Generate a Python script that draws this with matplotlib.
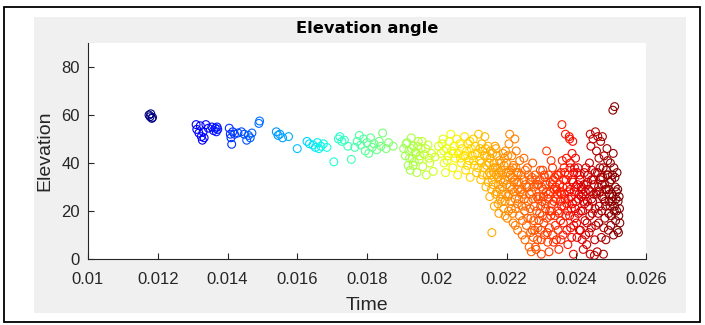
import numpy as np
import matplotlib
matplotlib.use('Agg')
import matplotlib.pyplot as plt
from matplotlib.patches import Rectangle

plt.rcParams['font.family'] = ['Liberation Sans', 'DejaVu Sans']

# %% Data, grouped by colour band
t_a = [0.01175, 0.01178, 0.01180, 0.01183, 0.01185]
e_a = [60.0, 59.3, 60.5, 58.6, 59.0]

t_b = [0.01310, 0.01312, 0.01318, 0.01322, 0.01325, 0.01328, 0.01330, 0.01333, 0.01338, 0.01345,
       0.01355, 0.01360, 0.01365, 0.01368, 0.01370, 0.01372]
e_b = [56.0, 54.0, 52.5, 55.5, 51.0, 49.5, 53.0, 50.5, 56.0, 54.5,
       55.0, 53.5, 54.5, 53.0, 55.0, 54.0]

t_c = [0.01405, 0.01408, 0.01410, 0.01412, 0.01415, 0.01420, 0.01430, 0.01440, 0.01448, 0.01455,
       0.01460, 0.01465, 0.01470, 0.01490, 0.01492]
e_c = [54.5, 52.0, 50.5, 47.8, 53.0, 52.0, 52.5, 53.0, 52.0, 49.5,
       51.5, 50.5, 52.5, 56.5, 57.5]

t_d = [0.01540, 0.01545, 0.01550, 0.01558, 0.01575, 0.01600, 0.01628, 0.01635, 0.01645, 0.01652,
       0.01658, 0.01662, 0.01668, 0.01675, 0.01685]
e_d = [53.0, 51.5, 52.0, 50.5, 51.0, 46.0, 49.0, 48.0, 47.5, 46.5,
       48.5, 46.0, 47.0, 48.0, 46.5]

t_e = [0.01705, 0.01718, 0.01722, 0.01728, 0.01735, 0.01745, 0.01755, 0.01765, 0.01772, 0.01778,
       0.01782, 0.01790, 0.01795, 0.01800, 0.01805, 0.01810, 0.01815, 0.01820, 0.01828, 0.01835,
       0.01840, 0.01845, 0.01855, 0.01862, 0.01875]
e_e = [40.5, 50.0, 51.0, 49.0, 49.5, 47.0, 41.5, 46.5, 49.0, 51.5,
       47.5, 50.0, 45.0, 48.5, 44.0, 50.5, 46.5, 48.0, 45.5, 49.0,
       47.0, 52.5, 46.0, 48.5, 47.0]

t_f = [0.01905, 0.01910, 0.01915, 0.01918, 0.01920, 0.01924, 0.01927, 0.01930, 0.01933, 0.01936,
       0.01940, 0.01943, 0.01947, 0.01950, 0.01955, 0.01960, 0.01965, 0.01970, 0.01975, 0.01980,
       0.01912, 0.01922, 0.01928, 0.01932, 0.01938, 0.01945, 0.01952, 0.01958, 0.01968, 0.01978,
       0.01985, 0.01990, 0.01995]
e_f = [46.0, 43.0, 48.5, 39.0, 45.0, 37.0, 50.5, 42.0, 47.0, 40.5,
       44.5, 36.0, 49.0, 41.5, 46.0, 38.5, 43.5, 35.0, 47.5, 40.0,
       48.0, 42.0, 46.0, 39.0, 44.0, 47.0, 43.0, 49.0, 46.0, 42.0,
       44.0, 36.5, 42.5]

t_g = [0.02005, 0.02012, 0.02018, 0.02021, 0.02025, 0.02028, 0.02033, 0.02036, 0.02040, 0.02043,
       0.02046, 0.02050, 0.02053, 0.02057, 0.02060, 0.02062, 0.02066, 0.02070, 0.02073, 0.02077,
       0.02080, 0.02083, 0.02086, 0.02090, 0.02093, 0.02096, 0.02099, 0.02102, 0.02105, 0.02108,
       0.02111, 0.02114, 0.02117, 0.02120, 0.02123, 0.02126, 0.02129, 0.02132, 0.02135, 0.02138,
       0.02015, 0.02030, 0.02048, 0.02068, 0.02088, 0.02110, 0.02128, 0.02140, 0.02145, 0.02020,
       0.02141, 0.02144, 0.02147]
e_g = [47, 44, 50, 40, 36, 46, 43, 49, 52, 45,
       38, 47, 42, 50, 35, 44, 48, 40, 46, 43,
       51, 37, 45, 48, 41, 34, 46, 43, 50, 39,
       47, 36, 44, 52, 41, 33, 48, 45, 38, 51,
       48, 41, 44, 42, 39, 44, 40, 46, 35, 45,
       30, 43, 47]

t_h = [0.02150, 0.02152, 0.02155, 0.02158, 0.02160, 0.02162, 0.02165, 0.02168, 0.02170, 0.02172,
       0.02175, 0.02178, 0.02180, 0.02182, 0.02185, 0.02188, 0.02190, 0.02192, 0.02195, 0.02198,
       0.02200, 0.02202, 0.02205, 0.02207, 0.02209, 0.02210, 0.02212, 0.02215, 0.02217, 0.02219,
       0.02220, 0.02222, 0.02224, 0.02226, 0.02228, 0.02230, 0.02232, 0.02234, 0.02236, 0.02238,
       0.02153, 0.02163, 0.02173, 0.02183, 0.02193, 0.02203, 0.02213, 0.02223, 0.02233, 0.02157,
       0.02167, 0.02177, 0.02187, 0.02197, 0.02206, 0.02216, 0.02227, 0.02237, 0.02161, 0.02189]
e_h = [40, 26, 35, 11, 44, 31, 22, 38, 46, 28,
       34, 19, 41, 25, 37, 30, 44, 21, 33, 27,
       40, 17, 36, 48, 52, 30, 24, 43, 34, 15,
       39, 28, 50, 21, 45, 32, 12, 36, 25, 41,
       42, 36, 43, 33, 39, 26, 37, 33, 29, 29,
       47, 31, 24, 45, 20, 29, 38, 18, 38, 35]

# extra orange points filling the 0.0208-0.0224 mass
t_k = [0.02082, 0.02095, 0.02106, 0.02118, 0.02124, 0.02131, 0.02137, 0.02143, 0.02148, 0.02151,
       0.02154, 0.02159, 0.02164, 0.02169, 0.02171, 0.02174, 0.02179, 0.02181, 0.02184, 0.02186,
       0.02191, 0.02194, 0.02196, 0.02199, 0.02201, 0.02204, 0.02208, 0.02211, 0.02214, 0.02218,
       0.02221, 0.02225, 0.02229, 0.02231, 0.02235, 0.02239, 0.02176, 0.02196, 0.02218, 0.02225]
e_k = [43, 49, 41, 38, 46, 35, 43, 39, 32, 36,
       45, 33, 40, 27, 35, 38, 36, 29, 40, 27,
       32, 42, 24, 36, 31, 43, 27, 35, 21, 38,
       32, 25, 36, 23, 32, 28, 23, 18, 19, 14]

t_i = [0.02242, 0.02245, 0.02247, 0.02250, 0.02252, 0.02255, 0.02257, 0.02260, 0.02262, 0.02265,
       0.02267, 0.02270, 0.02272, 0.02275, 0.02277, 0.02280, 0.02282, 0.02285, 0.02287, 0.02290,
       0.02292, 0.02295, 0.02297, 0.02300, 0.02302, 0.02305, 0.02307, 0.02310, 0.02312, 0.02315,
       0.02317, 0.02320, 0.02322, 0.02325, 0.02327, 0.02330, 0.02332, 0.02335, 0.02337, 0.02340,
       0.02342, 0.02345, 0.02347, 0.02350, 0.02352, 0.02355, 0.02357, 0.02360, 0.02362, 0.02365,
       0.02367, 0.02370, 0.02359, 0.02374, 0.02376, 0.02378, 0.02380, 0.02382, 0.02384, 0.02386,
       0.02388, 0.02390, 0.02392, 0.02394, 0.02396, 0.02398, 0.02400, 0.02402, 0.02404, 0.02406,
       0.02244, 0.02254, 0.02264, 0.02274, 0.02284, 0.02294, 0.02304, 0.02314, 0.02324, 0.02334,
       0.02344, 0.02354, 0.02364, 0.02366, 0.02373, 0.02383, 0.02393, 0.02403, 0.02408, 0.02348,
       0.02369, 0.02381, 0.02388, 0.02328, 0.02372, 0.02271, 0.02283, 0.02300, 0.02356, 0.02318]
e_i = [35, 10, 27, 42, 20, 31, 14, 38, 24, 5,
       33, 17, 28, 40, 9, 22, 35, 4, 26, 13,
       31, 19, 37, 8, 24, 29, 15, 34, 21, 45,
       11, 27, 3, 32, 18, 23, 38, 7, 29, 14,
       25, 35, 20, 4, 31, 16, 27, 41, 10, 22,
       36, 18, 56, 30, 6, 25, 51, 38, 13, 21,
       33, 49, 2, 28, 17, 42, 24, 9, 31, 19,
       22, 37, 30, 12, 33, 26, 37, 28, 20, 33,
       29, 24, 33, 27, 23, 29, 36, 36, 27, 12,
       52, 50, 44, 41, 42, 3, 5, 2, 8, 7]

# extra red points filling the 0.0224-0.0240 mass
t_m = [0.02243, 0.02246, 0.02249, 0.02251, 0.02253, 0.02256, 0.02259, 0.02261, 0.02263, 0.02266,
       0.02268, 0.02269, 0.02273, 0.02276, 0.02278, 0.02279, 0.02281, 0.02286, 0.02288, 0.02289,
       0.02291, 0.02293, 0.02296, 0.02298, 0.02299, 0.02301, 0.02303, 0.02306, 0.02308, 0.02309,
       0.02311, 0.02313, 0.02316, 0.02319, 0.02321, 0.02323, 0.02326, 0.02329, 0.02331, 0.02333,
       0.02336, 0.02338, 0.02339, 0.02341, 0.02343, 0.02346, 0.02349, 0.02351, 0.02353, 0.02356,
       0.02358, 0.02361, 0.02363, 0.02365, 0.02368, 0.02371, 0.02373, 0.02375, 0.02377, 0.02379,
       0.02381, 0.02383, 0.02385, 0.02387, 0.02389, 0.02391, 0.02393, 0.02395, 0.02397, 0.02399]
e_m = [29, 16, 33, 25, 8, 22, 30, 17, 35, 27,
       21, 11, 34, 25, 16, 30, 12, 20, 31, 8,
       25, 16, 33, 22, 12, 30, 18, 26, 35, 10,
       23, 31, 17, 25, 35, 13, 28, 20, 31, 10,
       24, 34, 18, 30, 8, 27, 35, 19, 28, 36,
       22, 30, 15, 38, 25, 33, 12, 20, 35, 28,
       18, 40, 26, 9, 23, 32, 14, 38, 21, 30]

t_j = [0.02410, 0.02412, 0.02415, 0.02418, 0.02420, 0.02422, 0.02425, 0.02428, 0.02430, 0.02432,
       0.02435, 0.02437, 0.02440, 0.02440, 0.02442, 0.02444, 0.02446, 0.02448, 0.02450, 0.02452,
       0.02454, 0.02455, 0.02456, 0.02458, 0.02460, 0.02462, 0.02464, 0.02466, 0.02468, 0.02470,
       0.02472, 0.02474, 0.02475, 0.02476, 0.02478, 0.02480, 0.02482, 0.02484, 0.02486, 0.02488,
       0.02490, 0.02492, 0.02494, 0.02496, 0.02498, 0.02500, 0.02502, 0.02505, 0.02510, 0.02504,
       0.02507, 0.02510, 0.02512, 0.02515, 0.02518, 0.02520, 0.02522, 0.02525, 0.02508, 0.02513,
       0.02414, 0.02424, 0.02434, 0.02444, 0.02454, 0.02464, 0.02474, 0.02484, 0.02494, 0.02503,
       0.02419, 0.02429, 0.02439, 0.02449, 0.02459, 0.02469, 0.02479, 0.02489, 0.02499, 0.02427]
e_j = [35, 12, 26, 20, 4, 31, 16, 38, 6, 24,
       29, 11, 2, 52, 47, 33, 19, 50, 27, 1.5,
       36, 53, 14, 45, 3, 51, 30, 22, 38, 49,
       9, 26, 51, 34, 2, 43, 17, 29, 37, 46,
       41, 12, 24, 32, 40, 18, 27, 62, 63.5, 35,
       10, 22, 30, 28, 12, 24, 18, 15, 38, 16,
       30, 23, 35, 25, 21, 15, 31, 22, 29, 24,
       27, 31, 18, 33, 28, 33, 25, 35, 14, 10]

# extra dark red points filling the 0.0240-0.0252 mass
t_n = [0.02401, 0.02405, 0.02407, 0.02409, 0.02411, 0.02413, 0.02416, 0.02417, 0.02421, 0.02423,
       0.02426, 0.02431, 0.02433, 0.02436, 0.02438, 0.02441, 0.02443, 0.02445, 0.02447, 0.02451,
       0.02453, 0.02457, 0.02461, 0.02463, 0.02465, 0.02467, 0.02471, 0.02473, 0.02477, 0.02479,
       0.02481, 0.02483, 0.02485, 0.02487, 0.02491, 0.02493, 0.02495, 0.02497, 0.02501, 0.02506,
       0.02509, 0.02511, 0.02514, 0.02516, 0.02519, 0.02521, 0.02523, 0.02524, 0.02517, 0.02506]
e_n = [15, 38, 25, 12, 33, 20, 29, 8, 24, 36,
       28, 15, 32, 22, 40, 28, 13, 37, 24, 31,
       8, 27, 36, 19, 42, 28, 34, 20, 38, 13,
       31, 24, 8, 29, 35, 19, 27, 22, 33, 26,
       20, 34, 25, 20, 29, 11, 26, 21, 36, 44]

time = np.concatenate([t_a, t_b, t_c, t_d, t_e, t_f, t_g, t_h, t_k, t_i, t_m, t_j, t_n])
elevation = np.concatenate([e_a, e_b, e_c, e_d, e_e, e_f, e_g, e_h, e_k, e_i, e_m, e_j, e_n])

x_ticks = [0.010, 0.012, 0.014, 0.016, 0.018, 0.020, 0.022, 0.024, 0.026]
x_ticklabels = ['0.01', '0.012', '0.014', '0.016', '0.018', '0.02', '0.022', '0.024', '0.026']
y_ticks = [0, 20, 40, 60, 80]

# %% Figure
W, H = 705, 325
fig = plt.figure(figsize=(W / 100, H / 100), dpi=100, facecolor='white')

# grey figure panel and outer frame (behind the axes)
fig.patches.append(Rectangle((34 / W, 1 - 313 / H), (686 - 34) / W, (313 - 17) / H,
                             transform=fig.transFigure, facecolor='#f0f0f0',
                             edgecolor='none', zorder=-2))
fig.patches.append(Rectangle((4 / W, 1 - 322 / H), 696 / W, 315 / H,
                             transform=fig.transFigure, fill=False,
                             edgecolor='black', linewidth=1.3, zorder=-1))

ax = fig.add_axes([88 / W, 1 - 259 / H, 558 / W, 216 / H])
ax.set_zorder(1)
ax.set_facecolor('white')

cmap = plt.get_cmap('jet')
norm = plt.Normalize(time.min(), time.max())
ax.scatter(time, elevation, s=32, facecolors='none', edgecolors=cmap(norm(time)),
           linewidths=0.8)

ax.set_xlim(0.010, 0.026)
ax.set_ylim(0, 90)
ax.set_xticks(x_ticks)
ax.set_xticklabels(x_ticklabels)
ax.set_yticks(y_ticks)
for s in ['top', 'right']:
    ax.spines[s].set_visible(False)
for s in ['left', 'bottom']:
    ax.spines[s].set_color('#262626')
    ax.spines[s].set_linewidth(0.8)
ax.tick_params(direction='in', length=4, width=0.8, colors='#262626',
               labelsize=12, labelcolor='#262626')
ax.tick_params(axis='x', pad=9)
ax.tick_params(axis='y', pad=6)

fig.text(367 / W, 1 - 28 / H, 'Elevation angle', ha='center', va='center',
         fontsize=11.7, fontweight='bold', color='black', family='DejaVu Sans')
fig.text(367 / W, 1 - 305 / H, 'Time', ha='center', va='center',
         fontsize=14, color='#262626')
fig.text(45 / W, 1 - 151 / H, 'Elevation', ha='center', va='center',
         rotation=90, fontsize=14, color='#262626')

fig.savefig('out.png', dpi=100)
